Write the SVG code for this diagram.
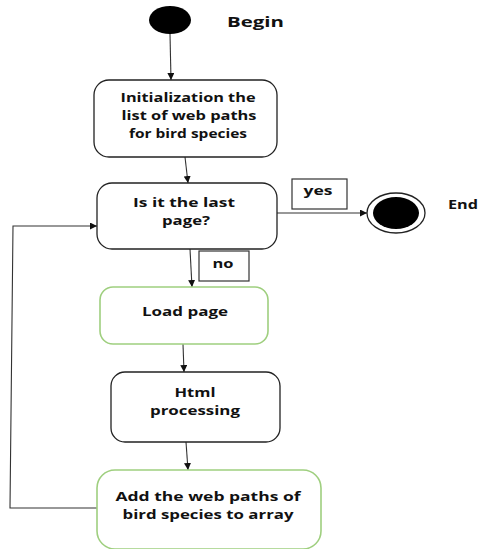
<svg xmlns="http://www.w3.org/2000/svg" width="479" height="549" viewBox="0 0 479 549">
<defs>
<marker id="arr" viewBox="0 0 8 8" refX="8" refY="4" markerWidth="7" markerHeight="7" markerUnits="userSpaceOnUse" orient="auto">
<path d="M0,0 L8,4 L0,8 Z" fill="#111"/>
</marker>
<style>
text{font-family:"Open Sans","Liberation Sans",sans-serif;font-weight:bold;font-size:13px;fill:#111}
.c{text-anchor:middle}
.box{fill:#fff;stroke:#222;stroke-width:1.3}
.gbox{fill:#fff;stroke:#9fcf7f;stroke-width:1.6}
.lbl{fill:#fff;stroke:#333;stroke-width:1.2}
.ln{fill:none;stroke:#333;stroke-width:1.1}
</style>
</defs>
<rect width="479" height="549" fill="#fff"/>
<g id="connectors">
<line class="ln" x1="170" y1="34" x2="171" y2="80" marker-end="url(#arr)"/>
<line class="ln" x1="185" y1="157" x2="188" y2="183" marker-end="url(#arr)"/>
<line class="ln" x1="277" y1="213" x2="367" y2="213" marker-end="url(#arr)"/>
<line class="ln" x1="190" y1="249" x2="192" y2="287" marker-end="url(#arr)"/>
<line class="ln" x1="183" y1="344" x2="184" y2="372" marker-end="url(#arr)"/>
<line class="ln" x1="186" y1="442" x2="188" y2="470" marker-end="url(#arr)"/>
<polyline class="ln" points="97,508 10,508 13,226 97,226" marker-end="url(#arr)"/>
</g>
<g id="begin">
<ellipse cx="170" cy="20" rx="21" ry="14" fill="#000"/>
<text x="227" y="27" style="font-size:15px" textLength="57" lengthAdjust="spacingAndGlyphs">Begin</text>
</g>
<g id="init">
<rect class="box" x="94" y="80" width="183" height="77" rx="15"/>
<text class="c" x="188" y="102" textLength="135" lengthAdjust="spacingAndGlyphs">Initialization the</text>
<text class="c" x="189" y="120" textLength="135" lengthAdjust="spacingAndGlyphs">list of web paths</text>
<text class="c" x="188" y="138" textLength="118" lengthAdjust="spacingAndGlyphs">for bird species</text>
</g>
<g id="lastpage">
<rect class="box" x="97" y="183" width="180" height="66" rx="15"/>
<text class="c" x="184" y="207" textLength="102" lengthAdjust="spacingAndGlyphs">Is it the last</text>
<text class="c" x="186" y="225" textLength="48" lengthAdjust="spacingAndGlyphs">page?</text>
</g>
<g id="yes">
<rect class="lbl" x="292" y="179" width="55" height="30"/>
<text class="c" x="318" y="195" textLength="29" lengthAdjust="spacingAndGlyphs">yes</text>
</g>
<g id="end">
<ellipse cx="396" cy="213" rx="29" ry="20" fill="#fff" stroke="#222" stroke-width="1.3"/>
<ellipse cx="396" cy="213" rx="23" ry="16" fill="#000"/>
<text x="448" y="209" textLength="30" lengthAdjust="spacingAndGlyphs">End</text>
</g>
<g id="no">
<rect class="lbl" x="199" y="251" width="50" height="30"/>
<text class="c" x="223" y="268" textLength="21" lengthAdjust="spacingAndGlyphs">no</text>
</g>
<g id="load">
<rect class="gbox" x="100" y="287" width="168" height="57" rx="13"/>
<text class="c" x="185" y="316" textLength="86" lengthAdjust="spacingAndGlyphs">Load page</text>
</g>
<g id="html">
<rect class="box" x="111" y="372" width="169" height="70" rx="14"/>
<text class="c" x="195" y="397" textLength="41" lengthAdjust="spacingAndGlyphs">Html</text>
<text class="c" x="195" y="415" textLength="90" lengthAdjust="spacingAndGlyphs">processing</text>
</g>
<g id="add">
<rect class="gbox" x="97" y="470" width="224" height="79" rx="18"/>
<text class="c" x="208" y="501" textLength="185" lengthAdjust="spacingAndGlyphs">Add the web paths of</text>
<text class="c" x="208" y="519" textLength="171" lengthAdjust="spacingAndGlyphs">bird species to array</text>
</g>
</svg>
